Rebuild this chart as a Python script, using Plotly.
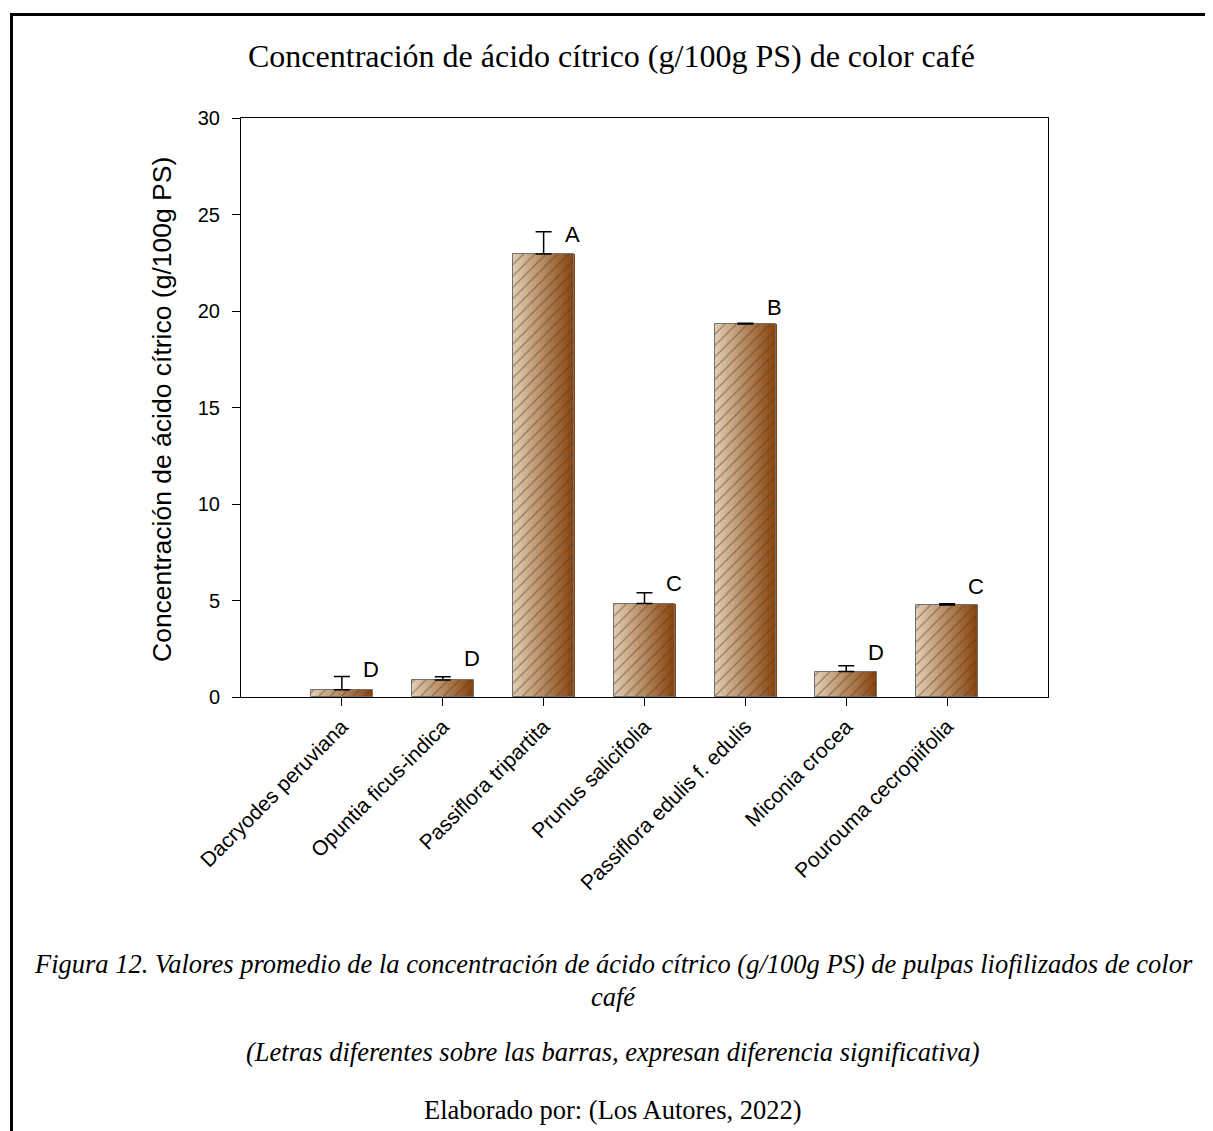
import plotly.graph_objects as go

# ---- data ----
species = ["Dacryodes peruviana", "Opuntia ficus-indica", "Passiflora tripartita",
           "Prunus salicifolia", "Passiflora edulis f. edulis", "Miconia crocea",
           "Pourouma cecropiifolia"]
values = [0.37, 0.88, 22.95, 4.84, 19.32, 1.32, 4.77]
errors = [0.69, 0.17, 1.16, 0.56, 0.05, 0.30, 0.06]
letters = ["D", "D", "A", "C", "B", "D", "C"]
y_ticks = [0, 5, 10, 15, 20, 25, 30]

# ---- layout constants (pixels, reference coords; page has an 8px body margin) ----
OFF = 8
W, H = 1213, 1131
L, R, T, B = 241, 1048, 118, 697
def px(x):
    return (x - L) / (R - L)
def py(y):
    return (B - y) / (B - T)

x = list(range(len(species)))
bar_w = 0.61
n_slices = 24
c0 = (224, 203, 176)
c1 = (138, 68, 12)

fig = go.Figure()
sw = bar_w / n_slices
for i in range(n_slices):
    t = i / (n_slices - 1)
    col = tuple(round(c0[k] + (c1[k] - c0[k]) * t) for k in range(3))
    fig.add_trace(go.Bar(
        x=x, y=values, width=sw * 1.15, offset=-bar_w / 2 + i * sw,
        marker=dict(color="rgb(%d,%d,%d)" % col, line=dict(width=0)),
        showlegend=False, hoverinfo="skip"))

fig.add_trace(go.Bar(
    x=x, y=values, width=bar_w,
    marker=dict(color="rgba(0,0,0,0)",
                line=dict(color="#707070", width=1),
                pattern=dict(shape="/", fgcolor="#4a3a2c", bgcolor="rgba(0,0,0,0)",
                             size=8, solidity=0.15, fillmode="overlay")),
    error_y=dict(type="data", array=errors, arrayminus=[0] * len(errors),
                 symmetric=False, color="black", thickness=1.5, width=8),
    showlegend=False, hoverinfo="skip"))

# letters above bars (y in data units, placed by eye)
letter_y = [1.45, 1.97, 23.94, 5.9, 20.2, 2.33, 5.75]
annotations = []
for i, (lt, ly) in enumerate(zip(letters, letter_y)):
    annotations.append(dict(x=i + 0.29, y=ly, xref="x", yref="y", text=lt,
                            showarrow=False, xanchor="center", yanchor="middle",
                            font=dict(family="Liberation Sans, Arial", size=22, color="black")))

serif = "Liberation Serif, Times New Roman, serif"
cap = dict(family=serif, size=26.5, color="black")
annotations += [
    dict(x=px(611.5), y=py(56), xref="paper", yref="paper", showarrow=False,
         text="Concentración de ácido cítrico (g/100g PS) de color café",
         font=dict(family=serif, size=32, color="black"), xanchor="center", yanchor="middle"),
    dict(x=px(162), y=py(410), xref="paper", yref="paper", showarrow=False, textangle=-90,
         text="Concentración de ácido cítrico (g/100g PS)",
         font=dict(family="Liberation Sans, Arial", size=26.5, color="black"),
         xanchor="center", yanchor="middle"),
    dict(x=px(613), y=py(964), xref="paper", yref="paper", showarrow=False,
         text="<i>Figura 12. Valores promedio de la concentración de ácido cítrico (g/100g PS) de pulpas liofilizados de color</i>",
         font=cap, xanchor="center", yanchor="middle"),
    dict(x=px(613), y=py(997), xref="paper", yref="paper", showarrow=False,
         text="<i>café</i>", font=cap, xanchor="center", yanchor="middle"),
    dict(x=px(613), y=py(1052), xref="paper", yref="paper", showarrow=False,
         text="<i>(Letras diferentes sobre las barras, expresan diferencia significativa)</i>",
         font=cap, xanchor="center", yanchor="middle"),
    dict(x=px(613), y=py(1110), xref="paper", yref="paper", showarrow=False,
         text="Elaborado por: (Los Autores, 2022)",
         font=cap, xanchor="center", yanchor="middle"),
]

shapes = [dict(type="rect", xref="paper", yref="paper",
               x0=px(11.5), x1=px(1240), y0=py(14.5), y1=py(1170),
               line=dict(color="black", width=3), fillcolor="rgba(0,0,0,0)", layer="above")]

fig.update_layout(
    width=W, height=H,
    margin=dict(l=L - OFF, r=W - R + OFF, t=T - OFF, b=H - B + OFF, autoexpand=False),
    paper_bgcolor="white", plot_bgcolor="white",
    barmode="overlay", bargap=0,
    annotations=annotations, shapes=shapes,
    font=dict(family="Liberation Sans, Arial", color="black"),
    xaxis=dict(range=[-1, 7], tickvals=x, ticktext=species, tickangle=-45,
               showgrid=False, zeroline=False, showline=True, linecolor="black", linewidth=1,
               mirror=True, ticks="outside", ticklen=8, tickcolor="black", tickwidth=1,
               tickfont=dict(family="Liberation Sans, Arial", size=21, color="black")),
    yaxis=dict(range=[0, 30], tickvals=y_ticks, showgrid=False, zeroline=False,
               showline=True, linecolor="black", linewidth=1, mirror=True,
               ticks="outside", ticklen=8, tickcolor="black", tickwidth=1,
               ticklabelstandoff=8,
               tickfont=dict(family="Liberation Sans, Arial", size=20, color="black")),
)

fig.write_html("out.html")
